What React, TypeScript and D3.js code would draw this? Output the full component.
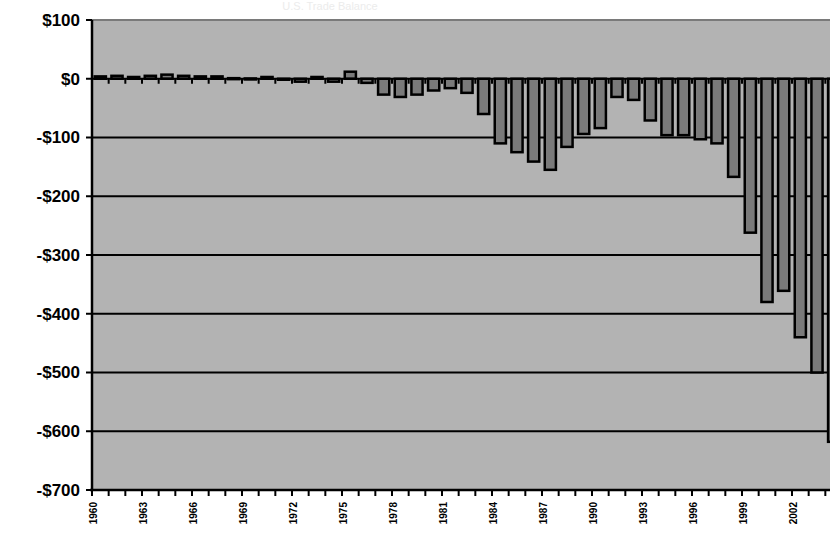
import React from "react";
import * as d3 from "d3";

const years: number[] = [
  1960, 1961, 1962, 1963, 1964, 1965, 1966, 1967, 1968, 1969,
  1970, 1971, 1972, 1973, 1974, 1975, 1976, 1977, 1978, 1979,
  1980, 1981, 1982, 1983, 1984, 1985, 1986, 1987, 1988, 1989,
  1990, 1991, 1992, 1993, 1994, 1995, 1996, 1997, 1998, 1999,
  2000, 2001, 2002, 2003, 2004,
];
const balance: number[] = [
  4, 5, 3, 5, 7, 5, 4, 4, 1, 0.5,
  3, -1, -5, 3, -5, 12, -7, -27, -31, -27,
  -20, -16, -24, -60, -110, -125, -141, -155, -116, -94,
  -84, -31, -36, -71, -96, -96, -103, -110, -167, -262,
  -380, -361, -440, -500, -618,
];
const yTicks: number[] = [100, 0, -100, -200, -300, -400, -500, -600, -700];
const labelEvery = 3;
const title = "U.S. Trade Balance";

const W = 830;
const H = 533;
const plotL = 92;
const plotR = 842;
const plotT = 20;
const plotB = 490;

export default function App() {
  const x = d3
    .scaleBand<number>()
    .domain(years)
    .range([plotL, plotR])
    .paddingInner(0.33)
    .paddingOuter(0.165);
  const y = d3.scaleLinear().domain([-700, 100]).range([plotB, plotT]);
  const step = x.step();
  const fmt = (v: number) => (v < 0 ? `-$${Math.abs(v)}` : `$${v}`);
  const boundaries = d3.range(years.length + 1).map((i) => plotL + i * step);

  return (
    <svg
      width={W}
      height={H}
      style={{ position: "fixed", left: 0, top: 0, background: "#fff" }}
      fontFamily="'Liberation Sans', Arial, sans-serif"
    >
      <rect x={0} y={0} width={W} height={H} fill="#fff" />
      <text x={330} y={10} fill="#ececec" fontSize={11} textAnchor="middle">
        {title}
      </text>
      <rect x={plotL} y={plotT} width={plotR - plotL} height={plotB - plotT} fill="#b3b3b3" />
      <line x1={plotL} x2={plotR} y1={plotT} y2={plotT} stroke="#7a7a7a" strokeWidth={2} />
      {yTicks
        .filter((v) => v !== 100 && v !== 0 && v !== -700)
        .map((v) => (
          <line key={"g" + v} x1={plotL} x2={plotR} y1={y(v)} y2={y(v)} stroke="#000" strokeWidth={2} />
        ))}
      {years.map((yr, i) => {
        const v = balance[i];
        const y0 = y(Math.max(0, v));
        const y1 = y(Math.min(0, v));
        return (
          <rect
            key={yr}
            x={x(yr)!}
            y={y0}
            width={x.bandwidth()}
            height={Math.max(1, y1 - y0)}
            fill="#7a7a7a"
            stroke="#000"
            strokeWidth={2.5}
          />
        );
      })}
      <line x1={plotL} x2={plotR} y1={y(0)} y2={y(0)} stroke="#000" strokeWidth={2} />
      {boundaries.map((bx, i) => (
        <line key={"zt" + i} x1={bx} x2={bx} y1={y(0)} y2={y(0) + 5} stroke="#000" strokeWidth={2} />
      ))}
      <line x1={plotL} x2={plotL} y1={plotT} y2={plotB} stroke="#000" strokeWidth={2.5} />
      <line x1={plotL - 2} x2={plotR} y1={plotB} y2={plotB} stroke="#000" strokeWidth={2.5} />
      {boundaries.map((bx, i) => (
        <line key={"bt" + i} x1={bx} x2={bx} y1={plotB} y2={plotB + 6} stroke="#000" strokeWidth={2} />
      ))}
      {yTicks.map((v) => (
        <g key={"yt" + v}>
          <line x1={plotL - 6} x2={plotL} y1={y(v)} y2={y(v)} stroke="#000" strokeWidth={2} />
          <text
            x={80}
            y={y(v)}
            dy="0.35em"
            textAnchor="end"
            fontSize={17}
            fontWeight="bold"
            fill="#000"
          >
            {fmt(v)}
          </text>
        </g>
      ))}
      {years.map((yr, i) =>
        i % labelEvery === 0 ? (
          <text
            key={"xl" + yr}
            transform={`translate(${x(yr)! + x.bandwidth() / 2 - 3},${plotB + 12}) rotate(-90)`}
            textAnchor="end"
            fontSize={10}
            fontWeight="bold"
            fill="#000"
          >
            {yr}
          </text>
        ) : null
      )}
    </svg>
  );
}
